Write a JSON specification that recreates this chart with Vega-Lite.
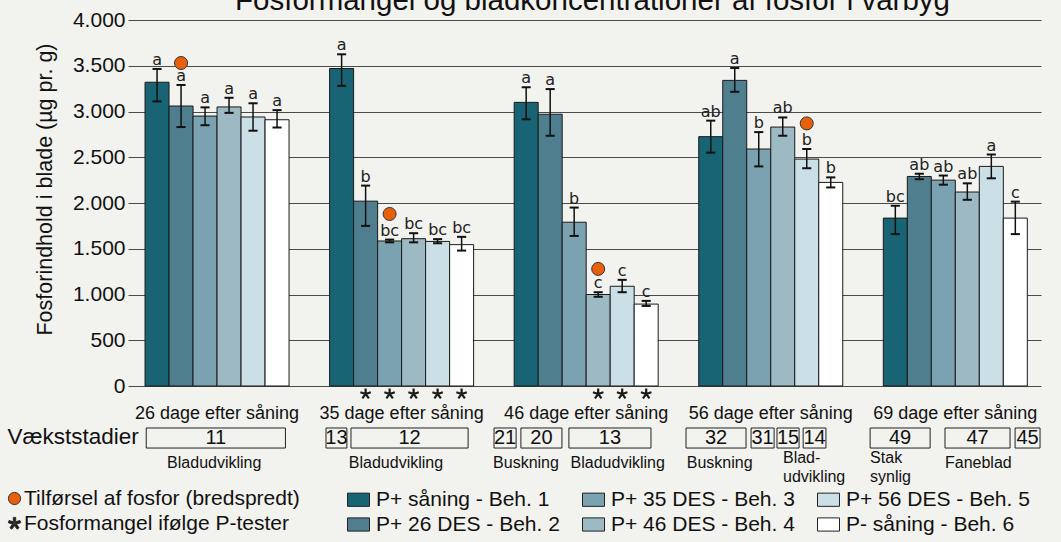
{
  "$schema": "https://vega.github.io/schema/vega-lite/v6.json",
  "autosize": {"type": "none"},
  "width": 913,
  "height": 366,
  "padding": {"left": 128, "top": 20, "right": 20, "bottom": 156},
  "background": "#f2f2ee",
  "config": {"view": {"stroke": null}, "font": "Liberation Sans"},
  "title": {"text": "Fosformangel og bladkoncentrationer af fosfor i vårbyg", "font": "Liberation Sans", "fontSize": 29.5, "fontWeight": "normal", "color": "#111111", "anchor": "middle", "frame": "group", "offset": 0, "dy": 30, "dx": 8, "baseline": "alphabetic"},
  "datasets": {
    "bars": [
      {"g": 0, "t": 1, "beh": "P+ såning - Beh. 1", "v": 3320, "lo": 3110, "hi": 3465, "l": "a"},
      {"g": 0, "t": 2, "beh": "P+ 26 DES - Beh. 2", "v": 3060, "lo": 2830, "hi": 3290, "l": "a"},
      {"g": 0, "t": 3, "beh": "P+ 35 DES - Beh. 3", "v": 2950, "lo": 2850, "hi": 3045, "l": "a"},
      {"g": 0, "t": 4, "beh": "P+ 46 DES - Beh. 4", "v": 3050, "lo": 2985, "hi": 3150, "l": "a"},
      {"g": 0, "t": 5, "beh": "P+ 56 DES - Beh. 5", "v": 2940, "lo": 2790, "hi": 3090, "l": "a"},
      {"g": 0, "t": 6, "beh": "P- såning - Beh. 6", "v": 2910, "lo": 2825, "hi": 3015, "l": "a"},
      {"g": 1, "t": 1, "beh": "P+ såning - Beh. 1", "v": 3470, "lo": 3280, "hi": 3625, "l": "a"},
      {"g": 1, "t": 2, "beh": "P+ 26 DES - Beh. 2", "v": 2020, "lo": 1750, "hi": 2190, "l": "b"},
      {"g": 1, "t": 3, "beh": "P+ 35 DES - Beh. 3", "v": 1585, "lo": 1570, "hi": 1600, "l": "bc"},
      {"g": 1, "t": 4, "beh": "P+ 46 DES - Beh. 4", "v": 1610, "lo": 1570, "hi": 1670, "l": "bc"},
      {"g": 1, "t": 5, "beh": "P+ 56 DES - Beh. 5", "v": 1580, "lo": 1560, "hi": 1605, "l": "bc"},
      {"g": 1, "t": 6, "beh": "P- såning - Beh. 6", "v": 1545, "lo": 1480, "hi": 1630, "l": "bc"},
      {"g": 2, "t": 1, "beh": "P+ såning - Beh. 1", "v": 3100, "lo": 2915, "hi": 3265, "l": "a"},
      {"g": 2, "t": 2, "beh": "P+ 26 DES - Beh. 2", "v": 2970, "lo": 2735, "hi": 3245, "l": "a"},
      {"g": 2, "t": 3, "beh": "P+ 35 DES - Beh. 3", "v": 1790, "lo": 1640, "hi": 1950, "l": "b"},
      {"g": 2, "t": 4, "beh": "P+ 46 DES - Beh. 4", "v": 1000, "lo": 975, "hi": 1025, "l": "c"},
      {"g": 2, "t": 5, "beh": "P+ 56 DES - Beh. 5", "v": 1090, "lo": 1025, "hi": 1160, "l": "c"},
      {"g": 2, "t": 6, "beh": "P- såning - Beh. 6", "v": 895, "lo": 875, "hi": 930, "l": "c"},
      {"g": 3, "t": 1, "beh": "P+ såning - Beh. 1", "v": 2725, "lo": 2550, "hi": 2900, "l": "ab"},
      {"g": 3, "t": 2, "beh": "P+ 26 DES - Beh. 2", "v": 3340, "lo": 3215, "hi": 3475, "l": "a"},
      {"g": 3, "t": 3, "beh": "P+ 35 DES - Beh. 3", "v": 2590, "lo": 2400, "hi": 2775, "l": "b"},
      {"g": 3, "t": 4, "beh": "P+ 46 DES - Beh. 4", "v": 2830, "lo": 2735, "hi": 2935, "l": "ab"},
      {"g": 3, "t": 5, "beh": "P+ 56 DES - Beh. 5", "v": 2480, "lo": 2380, "hi": 2590, "l": "b"},
      {"g": 3, "t": 6, "beh": "P- såning - Beh. 6", "v": 2225, "lo": 2170, "hi": 2280, "l": "b"},
      {"g": 4, "t": 1, "beh": "P+ såning - Beh. 1", "v": 1835, "lo": 1660, "hi": 1970, "l": "bc"},
      {"g": 4, "t": 2, "beh": "P+ 26 DES - Beh. 2", "v": 2290, "lo": 2260, "hi": 2320, "l": "ab"},
      {"g": 4, "t": 3, "beh": "P+ 35 DES - Beh. 3", "v": 2250, "lo": 2200, "hi": 2300, "l": "ab"},
      {"g": 4, "t": 4, "beh": "P+ 46 DES - Beh. 4", "v": 2120, "lo": 2035, "hi": 2215, "l": "ab"},
      {"g": 4, "t": 5, "beh": "P+ 56 DES - Beh. 5", "v": 2400, "lo": 2270, "hi": 2530, "l": "a"},
      {"g": 4, "t": 6, "beh": "P- såning - Beh. 6", "v": 1835, "lo": 1660, "hi": 2015, "l": "c"}
    ],
    "papp": [
      {"g": 0, "t": 2, "v": 3530, "sym": "Tilførsel af fosfor (bredspredt)"},
      {"g": 1, "t": 3, "v": 1880, "sym": "Tilførsel af fosfor (bredspredt)"},
      {"g": 2, "t": 4, "v": 1280, "sym": "Tilførsel af fosfor (bredspredt)"},
      {"g": 3, "t": 5, "v": 2870, "sym": "Tilførsel af fosfor (bredspredt)"}
    ],
    "mangel": [
      {"g": 1, "t": 2, "sym": "Fosformangel ifølge P-tester"},
      {"g": 1, "t": 3, "sym": "Fosformangel ifølge P-tester"},
      {"g": 1, "t": 4, "sym": "Fosformangel ifølge P-tester"},
      {"g": 1, "t": 5, "sym": "Fosformangel ifølge P-tester"},
      {"g": 1, "t": 6, "sym": "Fosformangel ifølge P-tester"},
      {"g": 2, "t": 4, "sym": "Fosformangel ifølge P-tester"},
      {"g": 2, "t": 5, "sym": "Fosformangel ifølge P-tester"},
      {"g": 2, "t": 6, "sym": "Fosformangel ifølge P-tester"}
    ],
    "dates": [
      {"g": 0, "d": "26 dage efter såning"},
      {"g": 1, "d": "35 dage efter såning"},
      {"g": 2, "d": "46 dage efter såning"},
      {"g": 3, "d": "56 dage efter såning"},
      {"g": 4, "d": "69 dage efter såning"}
    ],
    "boxes": [
      {"g": 0, "fra": 0.05, "til": 5.85, "n": "11"},
      {"g": 1, "fra": -0.15, "til": 0.72, "n": "13"},
      {"g": 1, "fra": 0.89, "til": 5.77, "n": "12"},
      {"g": 2, "fra": -0.84, "til": 0.08, "n": "21"},
      {"g": 2, "fra": 0.28, "til": 1.99, "n": "20"},
      {"g": 2, "fra": 2.28, "til": 5.7, "n": "13"},
      {"g": 3, "fra": -0.53, "til": 1.97, "n": "32"},
      {"g": 3, "fra": 2.18, "til": 3.14, "n": "31"},
      {"g": 3, "fra": 3.26, "til": 4.18, "n": "15"},
      {"g": 3, "fra": 4.35, "til": 5.3, "n": "14"},
      {"g": 4, "fra": -0.55, "til": 1.95, "n": "49"},
      {"g": 4, "fra": 2.57, "til": 5.28, "n": "47"},
      {"g": 4, "fra": 5.49, "til": 6.53, "n": "45"}
    ],
    "stages": [
      {"g": 0, "fra": 0.92, "s": "Bladudvikling"},
      {"g": 1, "fra": 0.8, "s": "Bladudvikling"},
      {"g": 2, "fra": -0.88, "s": "Buskning"},
      {"g": 2, "fra": 2.35, "s": "Bladudvikling"},
      {"g": 3, "fra": -0.5, "s": "Buskning"},
      {"g": 3, "fra": 3.51, "s": "Blad-\nudvikling"},
      {"g": 4, "fra": -0.55, "s": "Stak\nsynlig"},
      {"g": 4, "fra": 2.57, "s": "Faneblad"}
    ]
  },
  "layer": [
    {
      "data": {"name": "bars"},
      "transform": [
        {"calculate": "0.71 + 7.69 * datum.g + datum.t - 1", "as": "x0"},
        {"calculate": "datum.x0 + 1", "as": "x1"}
      ],
      "mark": {"type": "rect", "stroke": "#1a1a1a", "strokeWidth": 1},
      "encoding": {
        "x": {"field": "x0", "type": "quantitative", "scale": {"domain": [0, 38.04], "nice": false, "zero": false}, "axis": null},
        "x2": {"field": "x1"},
        "y": {"field": "v", "type": "quantitative", "scale": {"domain": [0, 4000], "nice": false},
          "axis": {"values": [0, 500, 1000, 1500, 2000, 2500, 3000, 3500, 4000], "grid": true, "gridColor": "#4a4a4a", "gridWidth": 1.2, "domain": false, "ticks": false,
            "labelFont": "Liberation Sans", "labelFontSize": 21, "labelColor": "#111111", "labelPadding": 3,
            "labelExpr": "replace(format(datum.value, ','), ',', '.')",
            "title": "Fosforindhold i blade (µg pr. g)", "titleFont": "Liberation Sans", "titleFontSize": 21.5, "titleFontWeight": "normal", "titleColor": "#111111",
            "titleAngle": -90, "titleAlign": "center", "titleBaseline": "middle", "titleX": -83, "titleY": 169}},
        "y2": {"datum": 0},
        "fill": {"field": "beh", "type": "nominal",
          "scale": {"domain": ["P+ såning - Beh. 1", "P+ 26 DES - Beh. 2", "P+ 35 DES - Beh. 3", "P+ 46 DES - Beh. 4", "P+ 56 DES - Beh. 5", "P- såning - Beh. 6"],
                    "range": ["#186474", "#4f7f8f", "#7ba2b1", "#9cb9c4", "#cadfe6", "#ffffff"]},
          "legend": {"orient": "none", "legendX": 219, "legendY": 468, "title": null, "direction": "horizontal", "columns": 3,
            "values": ["P+ såning - Beh. 1", "P+ 35 DES - Beh. 3", "P+ 56 DES - Beh. 5", "P+ 26 DES - Beh. 2", "P+ 46 DES - Beh. 4", "P- såning - Beh. 6"],
            "symbolType": "M-1,-0.6L1,-0.6L1,0.6L-1,0.6Z", "symbolSize": 484, "symbolStrokeColor": "#222222", "symbolStrokeWidth": 1,
            "labelFont": "Liberation Sans", "labelFontSize": 21, "labelColor": "#111111", "labelLimit": 0, "labelOffset": 6,
            "columnPadding": 20, "rowPadding": 3, "padding": 0}}
      }
    },
    {
      "mark": {"type": "rule", "color": "#e8610e", "strokeWidth": 2.5},
      "encoding": {"y": {"datum": 2000}, "x": {"datum": 0}, "x2": {"datum": 37.7}}
    },
    {
      "data": {"name": "bars"},
      "transform": [{"calculate": "0.71 + 7.69 * datum.g + datum.t - 0.5", "as": "xc"}],
      "mark": {"type": "rule", "color": "#111111", "strokeWidth": 1.5},
      "encoding": {"x": {"field": "xc", "type": "quantitative"}, "y": {"field": "lo", "type": "quantitative"}, "y2": {"field": "hi"}}
    },
    {
      "data": {"name": "bars"},
      "transform": [
        {"calculate": "0.71 + 7.69 * datum.g + datum.t - 0.5", "as": "xc"},
        {"calculate": "datum.xc - 0.19", "as": "cl"},
        {"calculate": "datum.xc + 0.19", "as": "cr"},
        {"fold": ["lo", "hi"], "as": ["end", "ev"]}
      ],
      "mark": {"type": "rule", "color": "#111111", "strokeWidth": 2},
      "encoding": {"x": {"field": "cl", "type": "quantitative"}, "x2": {"field": "cr"}, "y": {"field": "ev", "type": "quantitative"}}
    },
    {
      "data": {"name": "bars"},
      "transform": [{"calculate": "0.71 + 7.69 * datum.g + datum.t - 0.5", "as": "xc"}],
      "mark": {"type": "text", "font": "DejaVu Sans", "fontSize": 16, "color": "#222222", "baseline": "alphabetic", "align": "center", "dy": -4},
      "encoding": {"x": {"field": "xc", "type": "quantitative"}, "y": {"field": "hi", "type": "quantitative"}, "text": {"field": "l"}}
    },
    {
      "data": {"name": "papp"},
      "transform": [{"calculate": "0.71 + 7.69 * datum.g + datum.t - 0.5", "as": "xc"}],
      "mark": {"type": "point", "filled": true, "size": 169, "stroke": "#333333", "strokeWidth": 1, "opacity": 1},
      "encoding": {
        "x": {"field": "xc", "type": "quantitative"},
        "y": {"field": "v", "type": "quantitative"},
        "color": {"field": "sym", "type": "nominal",
          "scale": {"domain": ["Tilførsel af fosfor (bredspredt)", "Fosformangel ifølge P-tester"], "range": ["#e8600c", "#1a1a1a"]},
          "legend": {"orient": "none", "legendX": -124, "legendY": 468, "title": null, "direction": "vertical", "symbolSize": 150, "symbolStrokeColor": "#333333", "symbolStrokeWidth": 1,
            "labelFont": "Liberation Sans", "labelFontSize": 21, "labelColor": "#111111", "labelLimit": 0, "labelOffset": -1, "rowPadding": 3, "padding": 0}},
        "shape": {"field": "sym", "type": "nominal",
          "scale": {"domain": ["Tilførsel af fosfor (bredspredt)", "Fosformangel ifølge P-tester"], "range": ["circle", "M-0.2,0L-0.2,-1L0.2,-1L0.2,0ZM-0.062,-0.19L0.889,-0.499L1.013,-0.119L0.062,0.19ZM0.162,-0.118L0.75,0.691L0.426,0.927L-0.162,0.118ZM0.162,0.118L-0.426,0.927L-0.75,0.691L-0.162,-0.118ZM-0.062,0.19L-1.013,-0.119L-0.889,-0.499L0.062,-0.19Z"]},
          "legend": {"orient": "none", "legendX": -124, "legendY": 468, "title": null, "direction": "vertical", "symbolSize": 150, "symbolStrokeColor": "#333333", "symbolStrokeWidth": 1,
            "labelFont": "Liberation Sans", "labelFontSize": 21, "labelColor": "#111111", "labelLimit": 0, "labelOffset": -1, "rowPadding": 3, "padding": 0}}
      }
    },
    {
      "data": {"name": "mangel"},
      "transform": [{"calculate": "0.71 + 7.69 * datum.g + datum.t - 0.5", "as": "xc"}],
      "mark": {"type": "point", "filled": true, "size": 121, "strokeWidth": 0, "opacity": 1},
      "encoding": {
        "x": {"field": "xc", "type": "quantitative"},
        "y": {"datum": -87},
        "color": {"field": "sym", "type": "nominal"},
        "shape": {"field": "sym", "type": "nominal"}
      }
    },
    {
      "data": {"name": "dates"},
      "transform": [{"calculate": "0.71 + 7.69 * datum.g + 3", "as": "xc"}],
      "mark": {"type": "text", "font": "Liberation Sans", "fontSize": 18, "color": "#111111", "baseline": "middle", "align": "center"},
      "encoding": {"x": {"field": "xc", "type": "quantitative"}, "y": {"datum": -305}, "text": {"field": "d"}}
    },
    {
      "data": {"name": "boxes"},
      "transform": [
        {"calculate": "0.71 + 7.69 * datum.g + datum.fra", "as": "xa"},
        {"calculate": "0.71 + 7.69 * datum.g + datum.til", "as": "xb"}
      ],
      "mark": {"type": "rect", "fill": "#f2f2ee", "stroke": "#222222", "strokeWidth": 1},
      "encoding": {"x": {"field": "xa", "type": "quantitative"}, "x2": {"field": "xb"}, "y": {"datum": -459}, "y2": {"datum": -678}}
    },
    {
      "data": {"name": "boxes"},
      "transform": [
        {"calculate": "0.71 + 7.69 * datum.g + (datum.fra + datum.til) / 2", "as": "xm"}
      ],
      "mark": {"type": "text", "font": "Liberation Sans", "fontSize": 20, "color": "#111111", "baseline": "middle", "align": "center"},
      "encoding": {"x": {"field": "xm", "type": "quantitative"}, "y": {"datum": -568}, "text": {"field": "n"}}
    },
    {
      "data": {"name": "stages"},
      "transform": [
        {"filter": "indexof(datum.s, '\\n') < 0"},
        {"calculate": "0.71 + 7.69 * datum.g + datum.fra", "as": "xs"}
      ],
      "mark": {"type": "text", "font": "Liberation Sans", "fontSize": 16, "color": "#111111", "baseline": "middle", "align": "left"},
      "encoding": {"x": {"field": "xs", "type": "quantitative"}, "y": {"datum": -842}, "text": {"field": "s"}}
    },
    {
      "data": {"name": "stages"},
      "transform": [
        {"filter": "indexof(datum.s, '\\n') >= 0"},
        {"calculate": "0.71 + 7.69 * datum.g + datum.fra", "as": "xs"}
      ],
      "mark": {"type": "text", "font": "Liberation Sans", "fontSize": 16, "color": "#111111", "baseline": "top", "align": "left", "lineBreak": "\n", "lineHeight": 19},
      "encoding": {"x": {"field": "xs", "type": "quantitative"}, "y": {"datum": -700}, "text": {"field": "s"}}
    },
    {
      "data": {"values": [{"txt": "Vækststadier"}]},
      "mark": {"type": "text", "font": "Liberation Sans", "fontSize": 22.5, "color": "#111111", "baseline": "middle", "align": "right"},
      "encoding": {"x": {"datum": 0.45}, "y": {"datum": -557}, "text": {"field": "txt"}}
    }
  ]
}
